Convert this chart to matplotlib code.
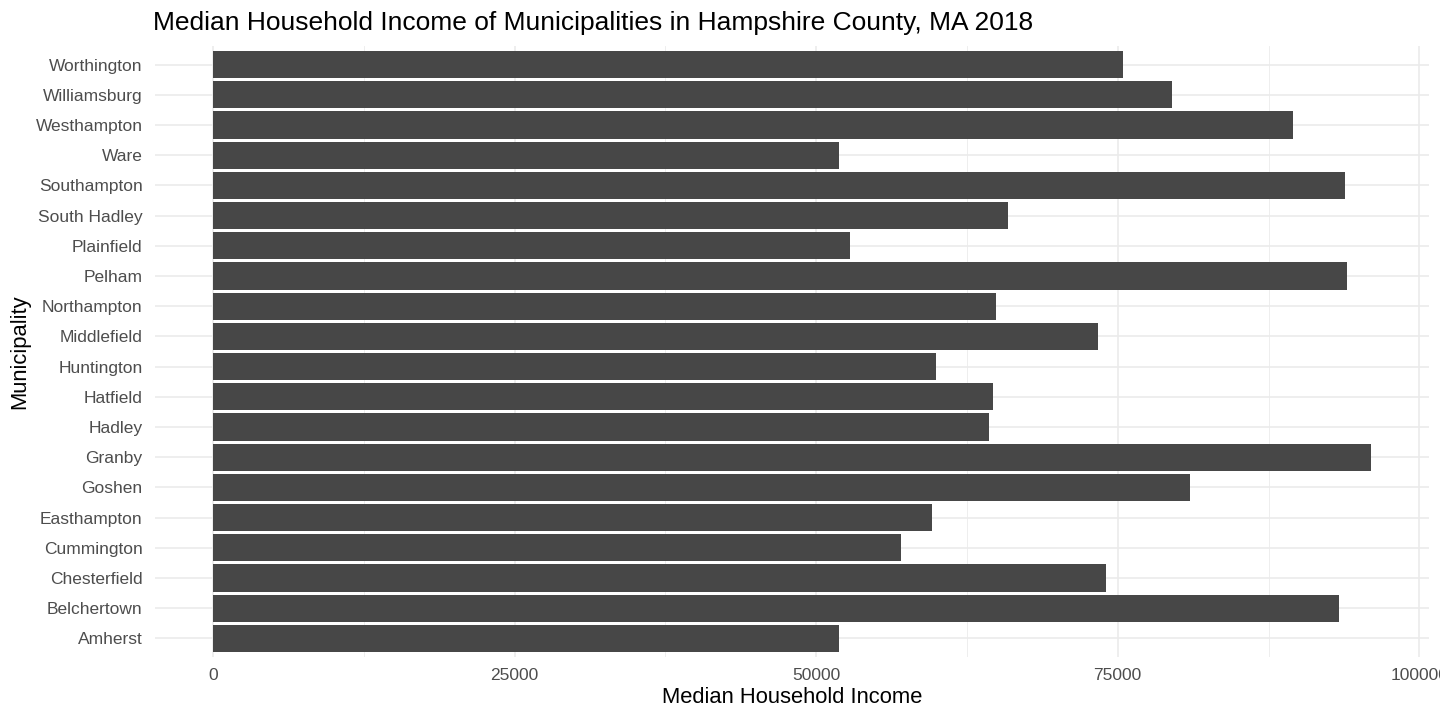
import matplotlib
matplotlib.use("Agg")
from matplotlib import pyplot as plt
from matplotlib.ticker import MultipleLocator
import numpy as np

plt.rcParams['font.family'] = ['Liberation Sans', 'DejaVu Sans']

towns = ["Amherst", "Belchertown", "Chesterfield", "Cummington", "Easthampton",
         "Goshen", "Granby", "Hadley", "Hatfield", "Huntington", "Middlefield",
         "Northampton", "Pelham", "Plainfield", "South Hadley", "Southampton",
         "Ware", "Westhampton", "Williamsburg", "Worthington"]
income = [51900, 93300, 74000, 57000, 59600,
          81000, 96000, 64300, 64700, 59900, 73400,
          64900, 94000, 52800, 65900, 93800,
          51900, 89500, 79500, 75400]
xticks = [0, 25000, 50000, 75000, 100000]
xlabels = ["0", "25000", "50000", "75000", "100000"]

fig = plt.figure(figsize=(14.4, 7.2), dpi=100)
ax = fig.add_axes([155 / 1440, 1 - 656.6 / 720, 1274 / 1440, 610.2 / 720])

y = np.arange(len(towns))
ax.barh(y, income, height=0.9, color="#474747", zorder=2)

ax.set_xlim(-4800, 100800)
ax.set_ylim(-0.6, len(towns) - 0.4)
ax.set_xticks(xticks)
ax.set_xticklabels(xlabels)
ax.xaxis.set_minor_locator(MultipleLocator(12500))
ax.set_yticks(y)
ax.set_yticklabels(towns)

ax.grid(which="major", color="#EBEBEB", linewidth=1.2, zorder=0)
ax.grid(which="minor", axis="x", color="#EBEBEB", linewidth=0.6, zorder=0)
ax.set_axisbelow(True)
for s in ax.spines.values():
    s.set_visible(False)
ax.tick_params(which="both", length=0)
ax.tick_params(axis="y", labelsize=12.5, labelcolor="#4D4D4D", pad=9)
ax.tick_params(axis="x", labelsize=12.5, labelcolor="#4D4D4D", pad=8)

ax.set_xlabel("Median Household Income", fontsize=15.8, labelpad=3)
ax.set_ylabel("Municipality", fontsize=15.8, labelpad=4)

fig.text(153 / 1440, 1 - 30 / 720,
         "Median Household Income of Municipalities in Hampshire County, MA 2018",
         fontsize=19, ha="left", va="baseline")

fig.savefig("out.png", dpi=100)
